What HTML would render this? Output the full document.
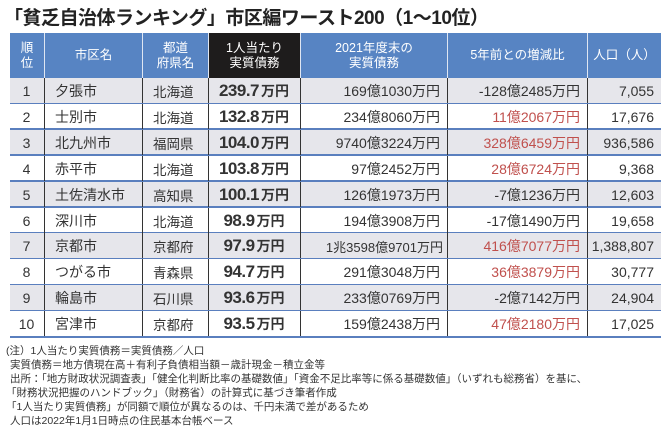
<!DOCTYPE html>
<html><head><meta charset="utf-8"><style>
body{margin:0;width:670px;height:427px;background:#fff;overflow:hidden;font-family:"Liberation Sans","Noto Sans CJK JP",sans-serif;position:relative}
.t{position:absolute;left:4px;top:3px;font-size:19px;font-weight:bold;color:#222;letter-spacing:-0.5px;white-space:nowrap}
.c{position:absolute;box-sizing:border-box;display:flex;align-items:center;white-space:nowrap;color:#333}
.h{color:#fff;font-size:12.5px;justify-content:center;text-align:center;line-height:15px;background:#5784c3}
.n{position:absolute;left:6px;font-size:10.5px;color:#333;white-space:nowrap}
.r{color:#c0504d}
</style></head><body>
<div class="t">「貧乏自治体ランキング」市区編ワースト200（1～10位）</div>
<div id="tb"></div>
<div class="n" style="top:343px">(注）1人当たり実質債務＝実質債務／人口</div>
<div class="n" style="top:357px;left:10px">実質債務＝地方債現在高＋有利子負債相当額－歳計現金－積立金等</div>
<div class="n" style="top:371px;left:10px">出所：「地方財政状況調査表」「健全化判断比率の基礎数値」「資金不足比率等に係る基礎数値」（いずれも総務省）を基に、</div>
<div class="n" style="top:385px">「財務状況把握のハンドブック」（財務省）の計算式に基づき筆者作成</div>
<div class="n" style="top:399px">「1人当たり実質債務」が同額で順位が異なるのは、千円未満で差があるため</div>
<div class="n" style="top:413px;left:10px">人口は2022年1月1日時点の住民基本台帳ベース</div>
<script>
var xs=[10,44,142,208,300,447,587,661];
var hd=["順<br>位","市区名","都道<br>府県名","1人当たり<br>実質債務","2021年度末の<br>実質債務","5年前との増減比","人口（人）"];
var d=[
["1","夕張市","北海道","239.7","169億1030万円","-128億2485万円","7,055",0],
["2","士別市","北海道","132.8","234億8060万円","11億2067万円","17,676",1],
["3","北九州市","福岡県","104.0","9740億3224万円","328億6459万円","936,586",1],
["4","赤平市","北海道","103.8","97億2452万円","28億6724万円","9,368",1],
["5","土佐清水市","高知県","100.1","126億1973万円","-7億1236万円","12,603",0],
["6","深川市","北海道","98.9","194億3908万円","-17億1490万円","19,658",0],
["7","京都市","京都府","97.9","1兆3598億9701万円","416億7077万円","1,388,807",1],
["8","つがる市","青森県","94.7","291億3048万円","36億3879万円","30,777",1],
["9","輪島市","石川県","93.6","233億0769万円","-2億7142万円","24,904",0],
["10","宮津市","京都府","93.5","159億2438万円","47億2180万円","17,025",1]];
var h="";
for(var i=0;i<7;i++){h+='<div class="c h" style="left:'+xs[i]+'px;top:33px;width:'+(xs[i+1]-xs[i])+'px;height:45px;'+(i==3?'background:#1e1c1c;':'')+(i>0?'border-left:1px solid #dfe6f2;':'')+'">'+hd[i]+'</div>';}
for(var r=0;r<10;r++){
 var y=78+r*25.9, bg=r%2==0?'#e6e6eb':'#fff';
 h+='<div style="position:absolute;left:10px;top:'+y+'px;width:651px;height:26px;background:'+bg+'"></div>';
 h+='<div style="position:absolute;left:10px;top:'+(y+24.5)+'px;width:651px;height:2.5px;background:#5a7fbe"></div>';
 var v=d[r];
 var cells=[
 [v[0],'center','14px'],[v[1],'left','14px'],[v[2],'left','13.5px'],
 ['<b style="font-size:17px;letter-spacing:-0.5px">'+v[3]+'</b><b style="font-size:14px;margin-left:2px">万円</b>','center',''],
 [v[4],'right',r==6?'13px':'14px'],['<span class="'+(v[7]?'r':'')+'">'+v[5]+'</span>','right','14px'],[v[6],'right','14px']];
 for(var i=0;i<7;i++){
  var jc=cells[i][1]=='center'?'center':cells[i][1]=='left'?'flex-start':'flex-end';
  h+='<div class="c" style="left:'+xs[i]+'px;top:'+y+'px;width:'+(xs[i+1]-xs[i])+'px;height:25px;justify-content:'+jc+';padding:1px '+(i==4&&r==6?4:7)+'px 0 '+(i==1||i==2?10:6)+'px;font-size:'+(cells[i][2]||'13px')+';'+(i>0?'border-left:1px solid #333;':'')+'">'+cells[i][0]+'</div>';
 }
}
document.getElementById('tb').innerHTML=h;
</script>
</body></html>
